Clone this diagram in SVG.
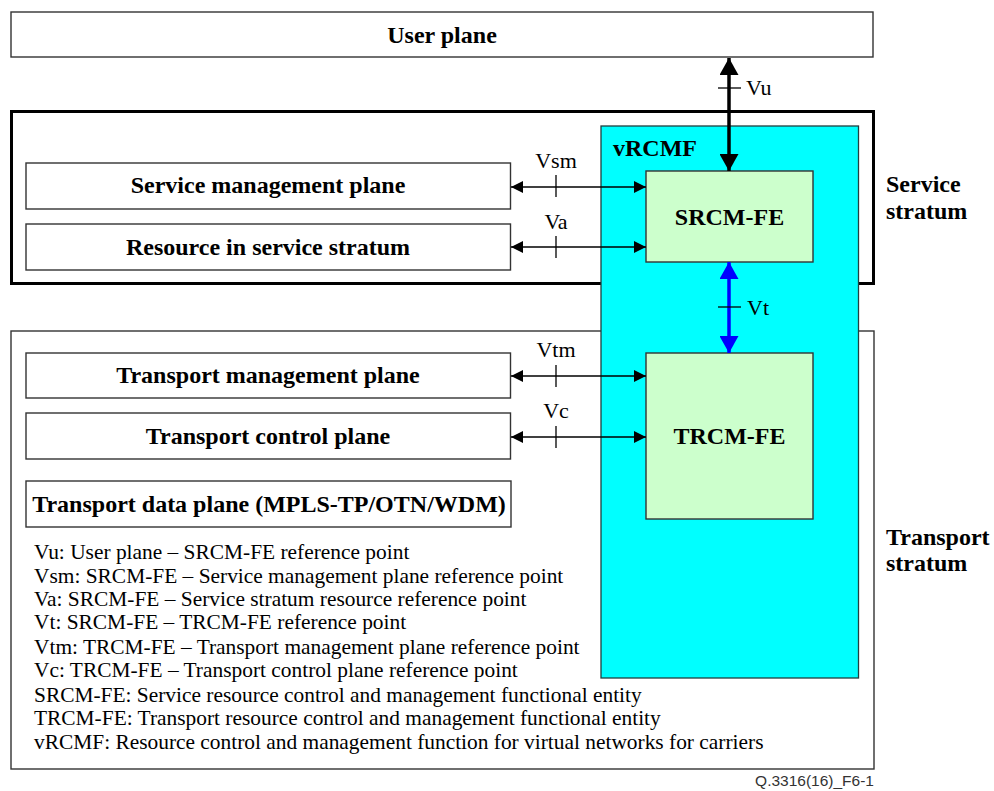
<svg xmlns="http://www.w3.org/2000/svg" width="994" height="791" viewBox="0 0 994 791">
<style>
  .box{fill:#ffffff;stroke:#333333;stroke-width:1.4}
  .t{font-family:"Liberation Serif","Times New Roman",serif;font-size:24px;font-weight:bold;fill:#000}
  .lbl{font-family:"Liberation Serif","Times New Roman",serif;font-size:22px;fill:#000}
  .leg{font-family:"Liberation Serif","Times New Roman",serif;font-size:21.4px;fill:#000}
  .thin{stroke:#000;stroke-width:1.5;fill:none}
  .tick{stroke:#000;stroke-width:1.3}
</style>
<defs>
  <marker id="ah" viewBox="0 0 12 12" refX="12" refY="6" markerWidth="12" markerHeight="12" markerUnits="userSpaceOnUse" orient="auto-start-reverse">
    <path d="M0,0 L12,6 L0,12 Z" fill="#000"/>
  </marker>
  <marker id="ahb" viewBox="0 0 17 19" refX="17" refY="9.5" markerWidth="17" markerHeight="19" markerUnits="userSpaceOnUse" orient="auto-start-reverse">
    <path d="M0,0 L17,9.5 L0,19 Z" fill="#000"/>
  </marker>
  <marker id="ahbl" viewBox="0 0 17 19" refX="17" refY="9.5" markerWidth="17" markerHeight="19" markerUnits="userSpaceOnUse" orient="auto-start-reverse">
    <path d="M0,0 L17,9.5 L0,19 Z" fill="#0000ff"/>
  </marker>
</defs>
<rect width="994" height="791" fill="#ffffff"/>

<g id="transport-stratum">
  <rect x="11" y="331" width="863" height="438" class="box"/>
  <text x="886" y="545" class="t">Transport</text>
  <text x="886" y="571" class="t">stratum</text>
</g>

<g id="service-stratum">
  <rect x="11.5" y="111.5" width="862" height="172" fill="none" stroke="#000" stroke-width="3"/>
  <text x="886" y="192" class="t">Service</text>
  <text x="886" y="219" class="t">stratum</text>
</g>

<g id="vrcmf">
  <rect x="601" y="126" width="257.5" height="552" fill="#00ffff" stroke="#1f3f3f" stroke-width="1.3"/>
  <text x="613" y="156" class="t">vRCMF</text>
</g>

<g id="user-plane">
  <rect x="11" y="12" width="862" height="45" class="box"/>
  <text x="442" y="43" class="t" text-anchor="middle">User plane</text>
</g>

<g id="service-management-plane">
  <rect x="26" y="163" width="484.5" height="46" class="box"/>
  <text x="268" y="193" class="t" text-anchor="middle">Service management plane</text>
</g>

<g id="resource-in-service-stratum">
  <rect x="26" y="224" width="484.5" height="46" class="box"/>
  <text x="268" y="255" class="t" text-anchor="middle">Resource in service stratum</text>
</g>

<g id="transport-management-plane">
  <rect x="26" y="353" width="484.5" height="45" class="box"/>
  <text x="268" y="383" class="t" text-anchor="middle">Transport management plane</text>
</g>

<g id="transport-control-plane">
  <rect x="26" y="413" width="484.5" height="46" class="box"/>
  <text x="268" y="444" class="t" text-anchor="middle">Transport control plane</text>
</g>

<g id="transport-data-plane">
  <rect x="26" y="481" width="485" height="46" class="box"/>
  <text x="269" y="512" class="t" text-anchor="middle">Transport data plane (MPLS-TP/OTN/WDM)</text>
</g>

<g id="srcm-fe">
  <rect x="646" y="171" width="167" height="91" fill="#ccffcc" stroke="#333333" stroke-width="1.4"/>
  <text x="729.5" y="225" class="t" text-anchor="middle">SRCM-FE</text>
</g>

<g id="trcm-fe">
  <rect x="646" y="353" width="167" height="166" fill="#ccffcc" stroke="#333333" stroke-width="1.4"/>
  <text x="729.5" y="444" class="t" text-anchor="middle">TRCM-FE</text>
</g>

<g id="connectors">
  <line x1="729" y1="58" x2="729" y2="171" stroke="#000" stroke-width="3.5" marker-start="url(#ahb)" marker-end="url(#ahb)"/>
  <line x1="718" y1="88" x2="741" y2="88" class="tick"/>
  <text x="746" y="95" class="lbl">Vu</text>

  <line x1="729" y1="262" x2="729" y2="353" stroke="#0000ff" stroke-width="3.5" marker-start="url(#ahbl)" marker-end="url(#ahbl)"/>
  <line x1="718" y1="307" x2="741" y2="307" class="tick"/>
  <text x="747" y="315" class="lbl">Vt</text>

  <line x1="511" y1="187" x2="646" y2="187" class="thin" marker-start="url(#ah)" marker-end="url(#ah)"/>
  <line x1="556" y1="175" x2="556" y2="197" class="tick"/>
  <text x="556" y="168" class="lbl" text-anchor="middle">Vsm</text>

  <line x1="511" y1="247" x2="646" y2="247" class="thin" marker-start="url(#ah)" marker-end="url(#ah)"/>
  <line x1="556" y1="236" x2="556" y2="258" class="tick"/>
  <text x="556" y="229" class="lbl" text-anchor="middle">Va</text>

  <line x1="511" y1="376" x2="646" y2="376" class="thin" marker-start="url(#ah)" marker-end="url(#ah)"/>
  <line x1="556" y1="365" x2="556" y2="387" class="tick"/>
  <text x="556" y="357" class="lbl" text-anchor="middle">Vtm</text>

  <line x1="511" y1="437" x2="646" y2="437" class="thin" marker-start="url(#ah)" marker-end="url(#ah)"/>
  <line x1="556" y1="426" x2="556" y2="448" class="tick"/>
  <text x="556" y="418" class="lbl" text-anchor="middle">Vc</text>
</g>

<g id="legend">
  <text x="34" y="559" class="leg">Vu: User plane – SRCM-FE reference point</text>
  <text x="34" y="583" class="leg">Vsm: SRCM-FE – Service management plane reference point</text>
  <text x="34" y="606" class="leg">Va: SRCM-FE – Service stratum resource reference point</text>
  <text x="34" y="629" class="leg">Vt: SRCM-FE – TRCM-FE reference point</text>
  <text x="34" y="654" class="leg">Vtm: TRCM-FE – Transport management plane reference point</text>
  <text x="34" y="677" class="leg">Vc: TRCM-FE – Transport control plane reference point</text>
  <text x="34" y="702" class="leg">SRCM-FE: Service resource control and management functional entity</text>
  <text x="34" y="725" class="leg">TRCM-FE: Transport resource control and management functional entity</text>
  <text x="34" y="749" class="leg">vRCMF: Resource control and management function for virtual networks for carriers</text>
</g>

<text x="874" y="786" font-family="Liberation Sans, Arial, sans-serif" font-size="15.5" fill="#333333" text-anchor="end">Q.3316(16)_F6-1</text>
</svg>
